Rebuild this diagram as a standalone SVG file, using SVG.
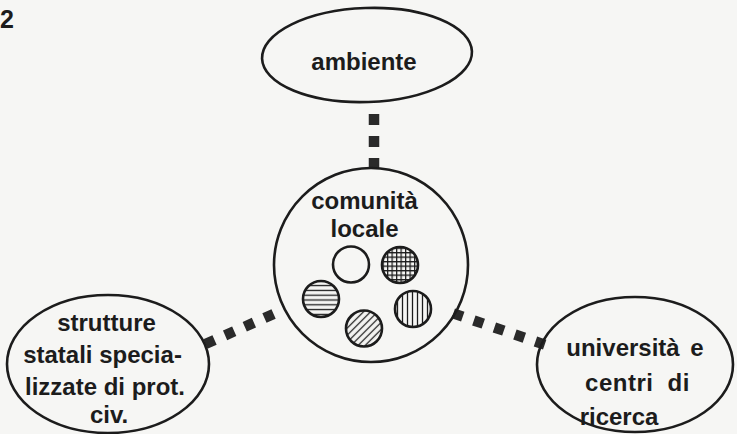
<svg xmlns="http://www.w3.org/2000/svg" width="737" height="434" viewBox="0 0 737 434">
  <style>
    .shape { fill: none; stroke: #1c1c1c; stroke-width: 2.6; }
    .lbl { font-family: "Liberation Sans", Arial, sans-serif; font-weight: bold; font-size: 24px; fill: #1c1c1c; text-anchor: middle; }
    .dots { fill: none; stroke: #2a2a2a; stroke-width: 10.5; stroke-linecap: butt; }
    .hatch { stroke: #1c1c1c; stroke-width: 1.3; }
    .small { stroke: #1c1c1c; stroke-width: 2.6; }
  </style>
  <defs>
    <pattern id="pGrid" patternUnits="userSpaceOnUse" width="4.5" height="4.5">
      <path class="hatch" d="M0 0.6 H4.5 M0.6 0 V4.5"/>
    </pattern>
    <pattern id="pHor" patternUnits="userSpaceOnUse" width="10" height="4.8">
      <path class="hatch" d="M0 2.4 H10"/>
    </pattern>
    <pattern id="pVer" patternUnits="userSpaceOnUse" width="5" height="10">
      <path class="hatch" d="M2.5 0 V10"/>
    </pattern>
    <pattern id="pDiag" patternUnits="userSpaceOnUse" width="5" height="5" patternTransform="rotate(45)">
      <path class="hatch" d="M2.5 0 V5"/>
    </pattern>
  </defs>
  <rect width="737" height="434" fill="#f6f6f4"/>

  <text x="0" y="28" class="lbl" style="font-size:25px;text-anchor:start">2</text>

  <g id="connectors">
    <line class="dots" x1="374" y1="114" x2="374" y2="170" stroke-dasharray="11 11"/>
    <line class="dots" x1="205.4" y1="344" x2="273.6" y2="314" stroke-dasharray="10 11.5"/>
    <line class="dots" x1="453.3" y1="313.4" x2="544.7" y2="344.6" stroke-dasharray="10 11.7"/>
  </g>

  <g id="ambiente">
    <ellipse class="shape" cx="367" cy="55" rx="105" ry="47" transform="rotate(-2 367 55)" fill="#f6f6f4"/>
    <text class="lbl" x="364" y="70">ambiente</text>
  </g>

  <g id="comunita">
    <circle class="shape" cx="371" cy="265" r="97"/>
    <text class="lbl" x="364.5" y="209">comunità</text>
    <text class="lbl" x="364.5" y="237">locale</text>
    <circle class="small" cx="351" cy="264.5" r="18" fill="none"/>
    <circle class="small" cx="400" cy="265" r="18" fill="url(#pGrid)"/>
    <circle class="small" cx="321" cy="299" r="18" fill="url(#pHor)"/>
    <circle class="small" cx="413" cy="309" r="18" fill="url(#pVer)"/>
    <circle class="small" cx="364" cy="328.5" r="18" fill="url(#pDiag)"/>
  </g>

  <g id="strutture">
    <ellipse class="shape" cx="108" cy="364" rx="101" ry="69" fill="#f6f6f4"/>
    <text class="lbl" x="106.5" y="331">strutture</text>
    <text class="lbl" x="102.5" y="363">statali specia-</text>
    <text class="lbl" x="105" y="395">lizzate di prot.</text>
    <text class="lbl" x="109" y="423">civ.</text>
  </g>

  <g id="universita">
    <ellipse class="shape" cx="635" cy="364.5" rx="98" ry="67.5" fill="#f6f6f4"/>
    <text class="lbl" x="635" y="356" word-spacing="4">università e</text>
    <text class="lbl" x="637.5" y="391" word-spacing="7" letter-spacing="0.5">centri di</text>
    <text class="lbl" x="619" y="425">ricerca</text>
  </g>
</svg>
